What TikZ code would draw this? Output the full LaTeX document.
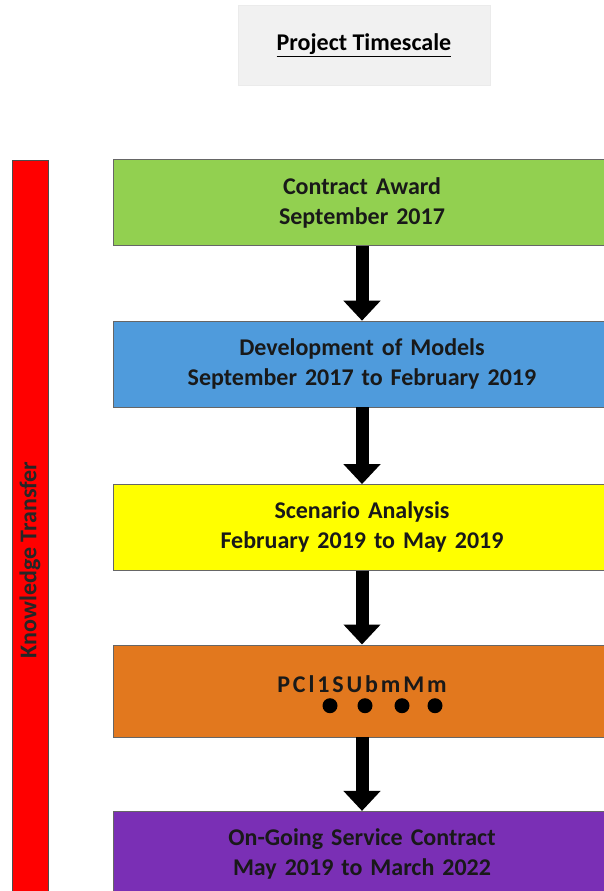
\documentclass[tikz,border=0pt]{standalone}
\usepackage{fontspec}
\setmainfont{Carlito}
\newfontfamily\spacedfont[LetterSpace=12]{Carlito}
\usetikzlibrary{arrows.meta, positioning, calc}
\definecolor{ptgreen}{HTML}{92D050}
\definecolor{ptblue}{HTML}{4F9BDC}
\definecolor{ptyellow}{HTML}{FFFF00}
\definecolor{ptorange}{HTML}{E2781E}
\definecolor{ptpurple}{HTML}{7A2FB5}
\definecolor{ptred}{HTML}{FF0000}
\definecolor{pttitle}{HTML}{F1F1F1}

\begin{document}
\begin{tikzpicture}[x=1pt, y=-1pt,
   font=\fontsize{24}{30}\selectfont\bfseries,
   node distance=75pt,
   stage/.style={rectangle, draw=black!60, thin, text width=490pt,
                 align=center, minimum width=498pt, minimum height=86pt,
                 inner sep=0pt, text=black!90},
   kbar/.style={rectangle, rotate=90, fill=ptred, draw=black!70, thin,
                minimum width=800pt, minimum height=36pt, inner sep=0pt,
                text=black!85},
   arr/.style={-{Triangle[length=20pt, width=36pt]}, line width=13pt, black}]
 \useasboundingbox (0,0) rectangle (604,891);
 \clip (0,0) rectangle (604,891);
 % title
 \node[fill=pttitle, draw=black!8, minimum width=252pt, minimum height=80pt] (title)
       at (364,45) {\underline{Project Timescale}};
 % side bar
 \node[kbar] (kt) at (30,560) {Knowledge Transfer};
 % stages
 \node[stage, fill=ptgreen] (award) at (362,202.5) {Contract Award\\September 2017};
 \node[stage, fill=ptblue, below=of award] (models) {Development of Models\\September 2017 to February 2019};
 \node[stage, fill=ptyellow, below=77pt of models] (scen) {Scenario Analysis\\February 2019 to May 2019};
 \node[stage, fill=ptorange, below=74pt of scen, minimum height=92pt,
       text height=17pt, text depth=13pt] (pcl) {\spacedfont PCl1SUbmMm};
 \node[stage, fill=ptpurple, below=74pt of pcl] (service) {On-Going Service Contract\\May 2019 to March 2022};
 \foreach \dx in {-32,3,40,73}
   \fill ($(pcl.center)+(\dx,15)$) circle (7.5);
 % arrows
 \draw[arr] (award) -- (models);
 \draw[arr] (models) -- (scen);
 \draw[arr] (scen) -- (pcl);
 \draw[arr] (pcl) -- (service);
\end{tikzpicture}
\end{document}
